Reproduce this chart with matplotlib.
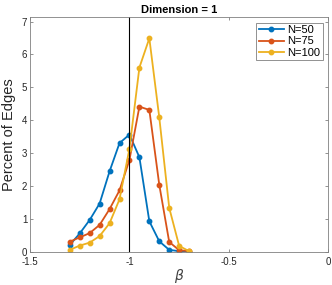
import matplotlib
matplotlib.use("Agg")
import matplotlib.pyplot as plt
import numpy as np

plt.rcParams['font.family'] = ['Liberation Sans', 'DejaVu Sans']

beta = [-1.3, -1.25, -1.2, -1.15, -1.1, -1.05, -1.0, -0.95, -0.9, -0.85, -0.8, -0.75, -0.7]
n50 = [0.20, 0.55, 0.96, 1.46, 2.44, 3.30, 3.56, 2.87, 0.92, 0.31, 0.05, 0.01, 0.0]
n75 = [0.30, 0.43, 0.56, 0.81, 1.29, 1.86, 2.79, 4.41, 4.31, 2.03, 0.29, 0.04, 0.01]
n100 = [0.05, 0.18, 0.27, 0.47, 0.86, 1.59, 3.13, 5.60, 6.49, 4.08, 1.33, 0.17, 0.01]
labels = ['N=50', 'N=75', 'N=100']
colors = ['#0072BD', '#D95319', '#EDB120']

xticks = [-1.5, -1, -0.5, 0]
xticklabels = ['-1.5', '-1', '-0.5', '0']
yticks = list(range(0, 8))

fig = plt.figure(figsize=(3.32, 2.85), dpi=100)
ax = fig.add_axes([0.0904, 0.1175, 0.8985, 0.823])

for ys, lab, c in zip([n50, n75, n100], labels, colors):
    ax.plot(beta, ys, '-o', color=c, lw=1.3, ms=3.2, label=lab)

ax.axvline(-1, color='black', lw=0.8)

ax.set_xlim(-1.5, 0)
ax.set_ylim(0, 7.14)
ax.set_xticks(xticks)
ax.set_xticklabels(xticklabels)
ax.set_yticks(yticks)

grey = '#262626'
for sp in ax.spines.values():
    sp.set_color('#808080')
    sp.set_linewidth(0.6)
ax.tick_params(direction='in', length=2.5, width=0.6, colors='#808080',
               labelcolor=grey, labelsize=7, top=True, right=True, pad=2)
ax.tick_params(axis='x', pad=4)

ax.set_title('Dimension = 1', fontsize=8, fontweight='bold', pad=3)
ax.set_xlabel(r'$\beta$', fontsize=10, color='#404040', labelpad=0)
ax.set_ylabel('Percent of Edges', fontsize=10.5, color=grey, labelpad=4)

leg = ax.legend(loc='upper right', fontsize=8, handlelength=2.2, handletextpad=0.3,
                borderaxespad=0.5, borderpad=0.25, labelspacing=0.1, fancybox=False,
                framealpha=1, edgecolor='#808080')
leg.get_frame().set_linewidth(0.6)

fig.savefig('out.png', dpi=100)
